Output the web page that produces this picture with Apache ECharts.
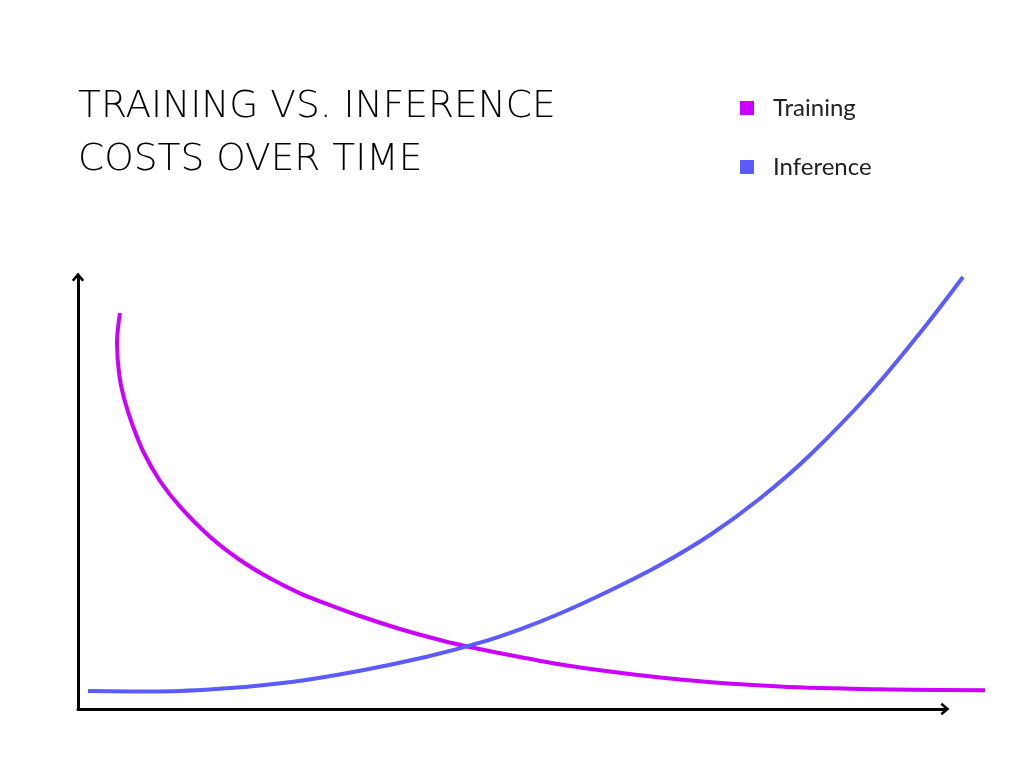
<!DOCTYPE html>
<html>
<head>
<meta charset="utf-8">
<script src="https://cdn.jsdelivr.net/npm/echarts@6/dist/echarts.min.js"></script>
<style>
html,body{margin:0;padding:0;background:#fff;}
#chart{width:1024px;height:768px;}
</style>
</head>
<body>
<div id="chart"></div>
<script>
// Data (x: time 0-100, y: cost 0-100)
const seriesNames = ['Training', 'Inference'];
const trainingX = [4.63, 4.30, 4.55, 5.13, 6.01, 7.22, 9.04, 11.25, 14.55, 17.86, 21.17, 24.48, 27.78, 31.09, 35.50, 39.91, 42.89, 48.73, 55.35, 66.37, 77.40, 88.42, 100];
const trainingY = [91.67, 84.72, 77.31, 71.53, 65.74, 59.49, 52.78, 46.83, 39.88, 34.49, 30.25, 26.78, 24.07, 21.53, 18.52, 15.97, 14.47, 12.04, 9.61, 6.83, 5.21, 4.56, 4.35];
const inferenceX = [1.10, 9.04, 16.39, 23.74, 31.09, 38.45, 44.32, 48.73, 53.14, 58.66, 64.17, 69.68, 75.19, 80.71, 87.32, 92.83, 97.57];
const inferenceY = [4.17, 4.05, 4.79, 6.32, 8.87, 12.11, 15.35, 18.45, 22.11, 27.43, 33.33, 40.28, 48.73, 58.80, 73.15, 87.04, 100];

const colors = ['#cc00ff', '#5a5cff'];
const pair = (xs, ys) => xs.map((x, i) => [x, ys[i]]);
const chevron = 'path://M5,0 L10,6 L8.4,7.3 L5,3.2 L1.6,7.3 L0,6 Z';

const chart = echarts.init(document.getElementById('chart'));
chart.setOption({
  backgroundColor: '#ffffff',
  animation: false,
  color: colors,
  title: {
    text: 'TRAINING VS. INFERENCE\nCOSTS OVER TIME',
    left: 73,
    top: 76,
    textStyle: {
      fontFamily: 'DejaVu Sans',
      fontWeight: 200,
      fontSize: 37.5,
      lineHeight: 53,
      color: '#000'
    }
  },
  legend: {
    orient: 'vertical',
    left: 735,
    top: 91,
    itemWidth: 14,
    itemHeight: 14,
    itemGap: 35,
    icon: 'rect',
    data: seriesNames,
    textStyle: { fontFamily: 'Lato', fontSize: 24, color: '#222', padding: [0, 0, 0, 14] }
  },
  grid: [
    { left: 78, top: 277, width: 867, height: 432 },
    { left: 78, top: 277, width: 907, height: 432 }
  ],
  xAxis: [
    {
      gridIndex: 0, type: 'value', min: 0, max: 100,
      axisLine: { show: true, onZero: false, symbol: ['none', chevron], symbolSize: [13, 9], lineStyle: { color: '#000', width: 3 } },
      axisTick: { show: false }, axisLabel: { show: false }, splitLine: { show: false }
    },
    {
      gridIndex: 1, type: 'value', min: 0, max: 100, show: false
    }
  ],
  yAxis: [
    {
      gridIndex: 0, type: 'value', min: 0, max: 100,
      axisLine: { show: true, onZero: false, symbol: ['none', chevron], symbolSize: [13, 9], lineStyle: { color: '#000', width: 3 } },
      axisTick: { show: false }, axisLabel: { show: false }, splitLine: { show: false }
    },
    {
      gridIndex: 1, type: 'value', min: 0, max: 100, show: false
    }
  ],
  series: [
    {
      name: seriesNames[0], type: 'line', xAxisIndex: 1, yAxisIndex: 1,
      data: pair(trainingX, trainingY), smooth: 0.35, showSymbol: false,
      lineStyle: { width: 4, color: colors[0] }, itemStyle: { color: colors[0] }
    },
    {
      name: seriesNames[1], type: 'line', xAxisIndex: 1, yAxisIndex: 1,
      data: pair(inferenceX, inferenceY), smooth: 0.35, showSymbol: false,
      lineStyle: { width: 4, color: colors[1] }, itemStyle: { color: colors[1] }
    }
  ]
});
</script>
</body>
</html>
